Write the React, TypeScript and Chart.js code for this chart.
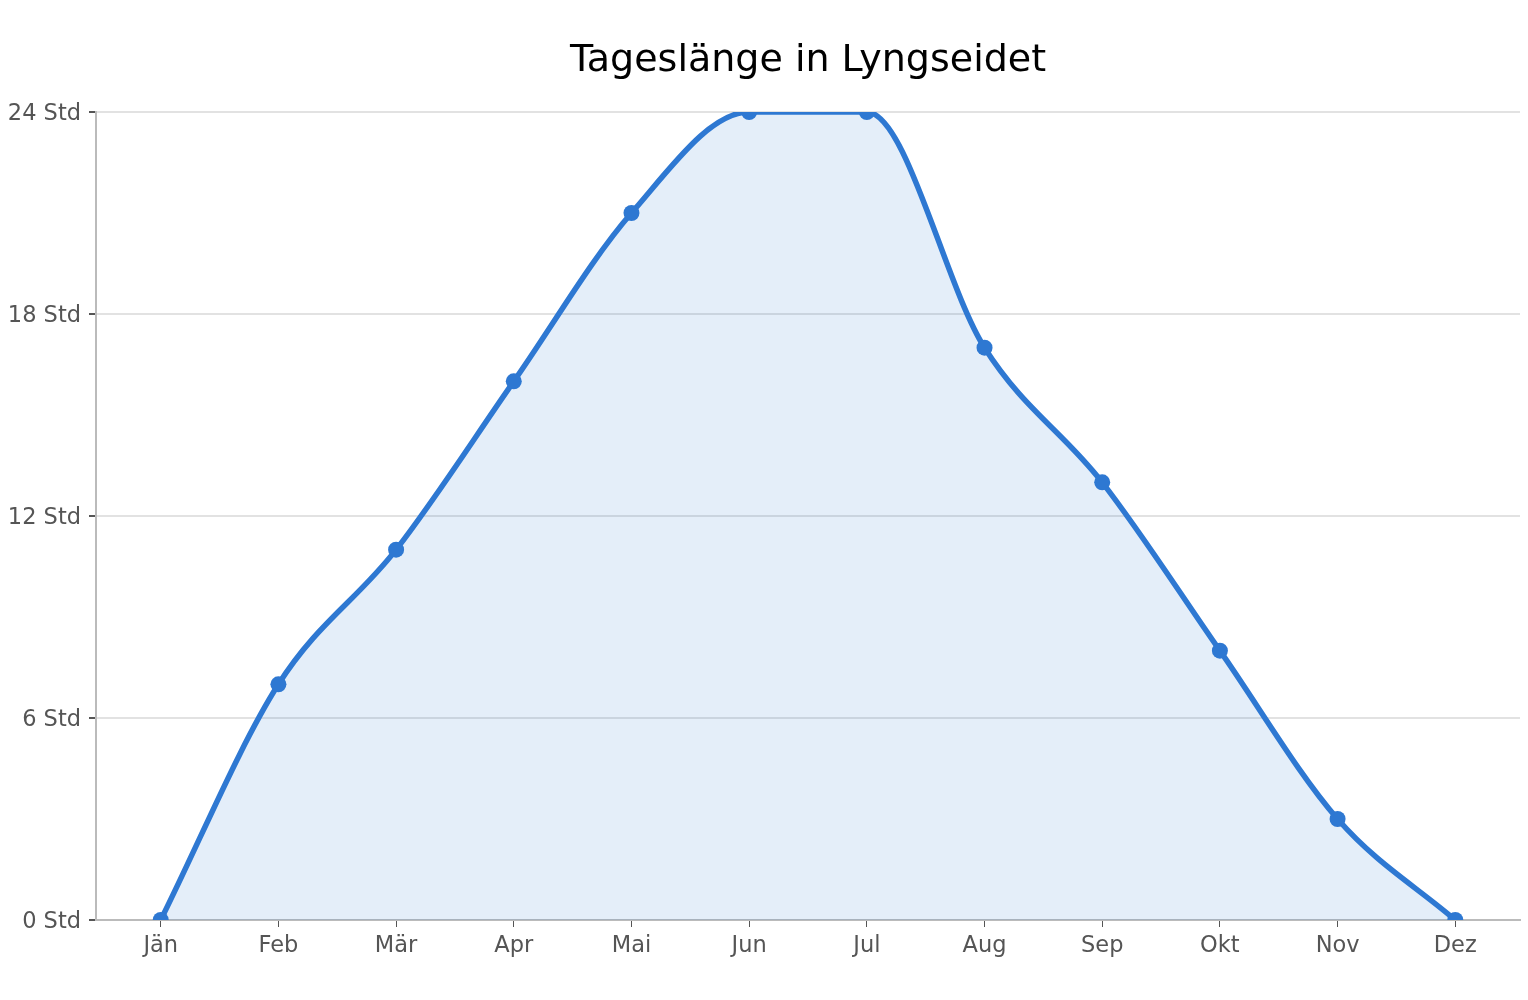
import { useEffect, useRef } from 'react'
import { Chart, registerables } from 'chart.js'

Chart.register(...registerables)

const months = ['Jän', 'Feb', 'Mär', 'Apr', 'Mai', 'Jun', 'Jul', 'Aug', 'Sep', 'Okt', 'Nov', 'Dez']
const hours = [0, 7, 11, 16, 21, 24, 24, 17, 13, 8, 3, 0]
const yTicks = [0, 6, 12, 18, 24]
const title = 'Tageslänge in Lyngseidet'

const FONT = "'DejaVu Sans', sans-serif"

// title centred over the plot area rather than the whole canvas
const titlePlugin = {
  id: 'areaTitle',
  afterDraw(chart: Chart) {
    const { ctx, chartArea } = chart
    ctx.save()
    ctx.font = `38px ${FONT}`
    ctx.fillStyle = '#000'
    ctx.textAlign = 'center'
    ctx.textBaseline = 'middle'
    ctx.fillText(title, (chartArea.left + chartArea.right) / 2, 61)
    ctx.restore()
  },
}

export default function App() {
  const canvasRef = useRef<HTMLCanvasElement>(null)

  useEffect(() => {
    if (!canvasRef.current) return
    document.body.style.margin = '0'

    const chart = new Chart(canvasRef.current, {
      type: 'line',
      data: {
        datasets: [
          {
            data: hours.map((h, i) => ({ x: i, y: h })),
            borderColor: '#2e78d2',
            backgroundColor: 'rgba(46,120,210,0.13)',
            borderWidth: 5.5,
            pointRadius: 8,
            pointBackgroundColor: '#2e78d2',
            pointBorderWidth: 0,
            cubicInterpolationMode: 'monotone',
            fill: 'origin',
            clip: 0,
          },
        ],
      },
      options: {
        animation: false,
        responsive: false,
        layout: { padding: { left: 0, top: 112, right: 8, bottom: 0 } },
        plugins: { legend: { display: false }, tooltip: { enabled: false } },
        scales: {
          x: {
            type: 'linear',
            min: -0.55,
            max: months.length - 1 + 0.55,
            afterBuildTicks: s => { s.ticks = months.map((_, i) => ({ value: i })) },
            afterFit: s => { s.height = 80 },
            ticks: {
              callback: v => months[v as number],
              color: '#555',
              font: { family: FONT, size: 22.5 },
              padding: 6,
              autoSkip: false,
              maxRotation: 0,
            },
            grid: { drawOnChartArea: false, tickLength: 7, tickColor: '#555' },
            border: { color: '#bbb', width: 2 },
          },
          y: {
            min: 0,
            max: 24,
            afterBuildTicks: s => { s.ticks = yTicks.map(v => ({ value: v })) },
            afterFit: s => { s.width = 96 },
            ticks: {
              callback: v => `${v} Std`,
              color: '#555',
              font: { family: FONT, size: 22.5 },
              padding: 8,
              labelOffset: 2,
            },
            grid: { color: '#e2e2e2', lineWidth: 2, tickLength: 7, tickColor: '#555' },
            border: { color: '#bbb', width: 2 },
          },
        },
      },
      plugins: [titlePlugin],
    })

    return () => chart.destroy()
  }, [])

  return (
    <div style={{ position: 'absolute', left: 0, top: 0, width: 1528, height: 1000 }}>
      <canvas ref={canvasRef} width={1528} height={1000} />
    </div>
  )
}
